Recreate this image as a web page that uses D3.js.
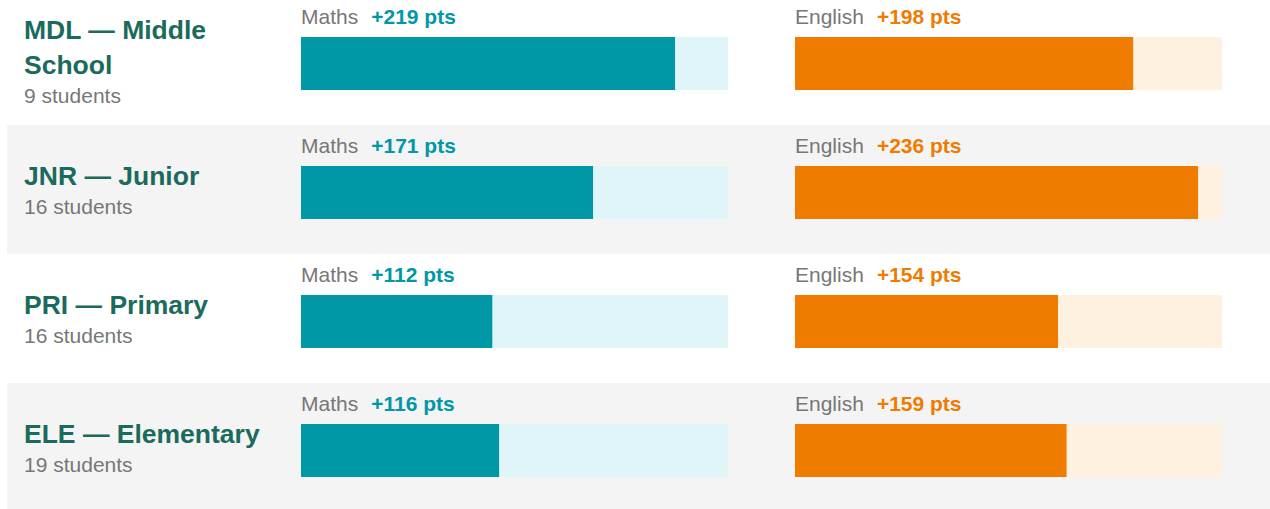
<!DOCTYPE html>
<html lang="en">
<head>
    <meta charset="UTF-8">
    <title>Score gains by school</title>
    <script src="https://d3js.org/d3.v7.min.js"></script>
    <style>
        body{ margin: 0; background: #fff; }
        svg{ display: block; }
        text{ font-family: "Liberation Sans", Arial, sans-serif; }
    </style>
</head>
<body>
<script>

    // data
    const schools = ["MDL — Middle School", "JNR — Junior", "PRI — Primary", "ELE — Elementary"]
    const titleLines = [["MDL — Middle", "School"], ["JNR — Junior"], ["PRI — Primary"], ["ELE — Elementary"]]
    const students = [9, 16, 16, 19]
    const mathsGain = [219, 171, 112, 116]
    const englishGain = [198, 236, 154, 159]
    const subjects = ["Maths", "English"]
    const maxGain = 250

    const width = 1270
    const height = 509
    const rowH = 129
    const firstRow = -4

    let svg = d3.select("body").append("svg")
                .attr("width", width)
                .attr("height", height)

    const y = d3.scaleBand().domain(d3.range(schools.length))
                .range([firstRow, firstRow + rowH * schools.length])

    const colors = {
        Maths:   {bar: "#0097a7", track: "#dff5f7"},
        English: {bar: "#ef7b00", track: "#fef1e0"}
    }
    const colX = {Maths: 301, English: 795}
    const trackW = 427
    const x = d3.scaleLinear().domain([0, maxGain]).range([0, trackW])

    let rows = svg.selectAll(".row")
                  .data(schools)
                  .enter()
                  .append("g")
                  .attr("class", "row")
                  .attr("transform", (d, i) => `translate(0,${y(i)})`)

    // alternate grey bands
    rows.filter((d, i) => i % 2 == 1)
        .append("rect")
        .attr("x", 7)
        .attr("y", 0)
        .attr("width", width - 7)
        .attr("height", rowH)
        .attr("fill", "#f4f4f4")

    // school name + student count, centred vertically
    rows.each(function(d, i) {
        const g = d3.select(this)
        const lines = titleLines[i]
        const top = rowH / 2 - (lines.length * 35 + 29) / 2
        lines.forEach((t, k) => {
            g.append("text")
             .attr("x", 24)
             .attr("y", top + 27.5 + k * 35)
             .attr("font-size", 26.5)
             .attr("font-weight", "bold")
             .attr("fill", "#1b6b5c")
             .text(t)
        })
        g.append("text")
         .attr("x", 24)
         .attr("y", top + lines.length * 35 + 21.5)
         .attr("font-size", 21)
         .attr("fill", "#777")
         .text(students[i] + " students")
    })

    // bars for each subject
    subjects.forEach(sub => {
        const vals = sub == "Maths" ? mathsGain : englishGain
        const c = colors[sub]

        let lab = rows.append("text")
                      .attr("x", colX[sub])
                      .attr("y", 28)
                      .attr("font-size", 21)
        lab.append("tspan")
           .attr("fill", "#777")
           .text(sub)
        lab.append("tspan")
           .attr("dx", 13)
           .attr("fill", c.bar)
           .attr("font-weight", "bold")
           .text((d, i) => "+" + vals[i] + " pts")

        rows.append("rect")
            .attr("x", colX[sub])
            .attr("y", 41)
            .attr("width", x(maxGain))
            .attr("height", 53)
            .attr("fill", c.track)

        rows.append("rect")
            .attr("x", colX[sub])
            .attr("y", 41)
            .attr("width", (d, i) => x(vals[i]))
            .attr("height", 53)
            .attr("fill", c.bar)
    })

</script>
</body>
</html>
